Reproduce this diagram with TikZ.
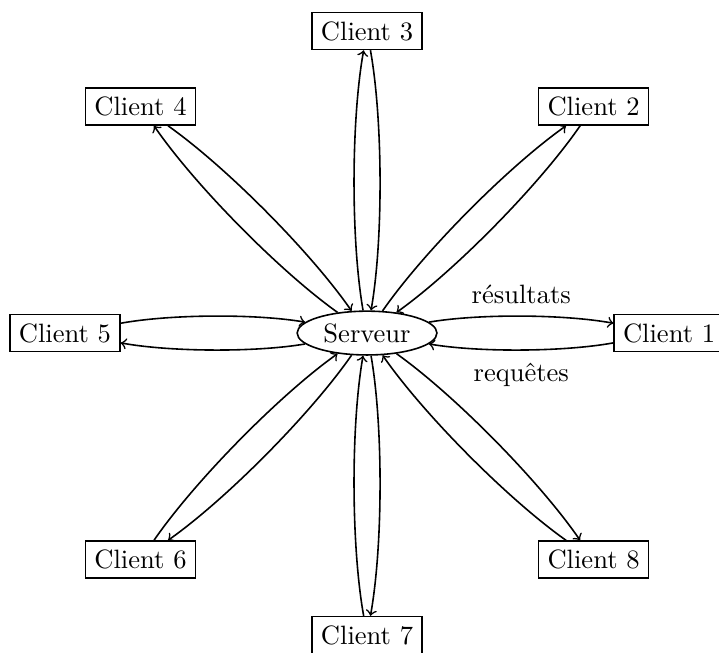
\documentclass[tikz,border=0pt]{standalone}
\usepackage{tikz}
\usetikzlibrary{shapes.geometric}
\tikzset{
  client/.style={draw, rectangle},
  srv/.style={draw, ellipse, inner sep=2.2pt},
  lien/.style={->, bend left=10, looseness=0.7},
  lbl/.style={inner sep=4.5pt},
}

\begin{document}
\begin{tikzpicture}[semithick]
  \useasboundingbox (-4.86,-4.225) rectangle (4.66,4.41);
  \node[srv] (serveur) at (0,0) {Serveur};
  % client 1 avec les etiquettes
  \node[client] (c1) at (4,0) {Client 1};
  \draw[lien] (serveur) to node[above, lbl]{résultats} (c1);
  \draw[lien] (c1) to node[below, lbl]{requêtes} (serveur);
  % les autres clients
  \foreach \i/\x/\y in {2/3/3, 3/0/4, 4/-3/3, 5/-4/0, 6/-3/-3, 7/0/-4, 8/3/-3} {
    \node[client] (c\i) at (\x,\y) {Client \i};
    \draw[lien] (serveur) to (c\i);
    \draw[lien] (c\i) to (serveur);
  }
\end{tikzpicture}
\end{document}
